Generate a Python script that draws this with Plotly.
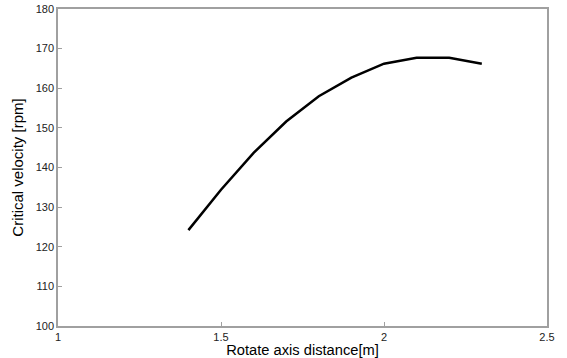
import plotly.graph_objects as go

distance = [1.4, 1.5, 1.6, 1.7, 1.8, 1.9, 2.0, 2.1, 2.2, 2.3]
velocity = [124.2, 134.4, 143.7, 151.6, 158.0, 162.7, 166.2, 167.7, 167.7, 166.2]
x_ticks = [1, 1.5, 2, 2.5]
y_ticks = [100, 110, 120, 130, 140, 150, 160, 170, 180]

fig = go.Figure()
fig.add_trace(go.Scatter(x=distance, y=velocity, mode="lines",
                         line=dict(color="black", width=2.5), showlegend=False))

axis_common = dict(showgrid=False, zeroline=False, showline=True, mirror=True,
                   linecolor="#a0a0a0", linewidth=1.5, ticks="inside", ticklen=4,
                   tickcolor="#a0a0a0", automargin=False,
                   tickfont=dict(family="Liberation Sans, Arial", size=11, color="#222"))

fig.update_layout(
    width=567, height=358,
    margin=dict(l=58, r=20, t=9, b=32),
    paper_bgcolor="white", plot_bgcolor="white",
    xaxis=dict(range=[1, 2.5], tickvals=x_ticks, ticktext=[str(v) for v in x_ticks],
               title=dict(text="Rotate axis distance[m]", standoff=4,
                          font=dict(family="Liberation Sans, Arial", size=14.7, color="black")),
               **axis_common),
    yaxis=dict(range=[100, 180], tickvals=y_ticks,
               title=dict(text="Critical velocity [rpm]", standoff=8,
                          font=dict(family="Liberation Sans, Arial", size=15, color="black")),
               **axis_common),
)
fig.write_html("out.html")
